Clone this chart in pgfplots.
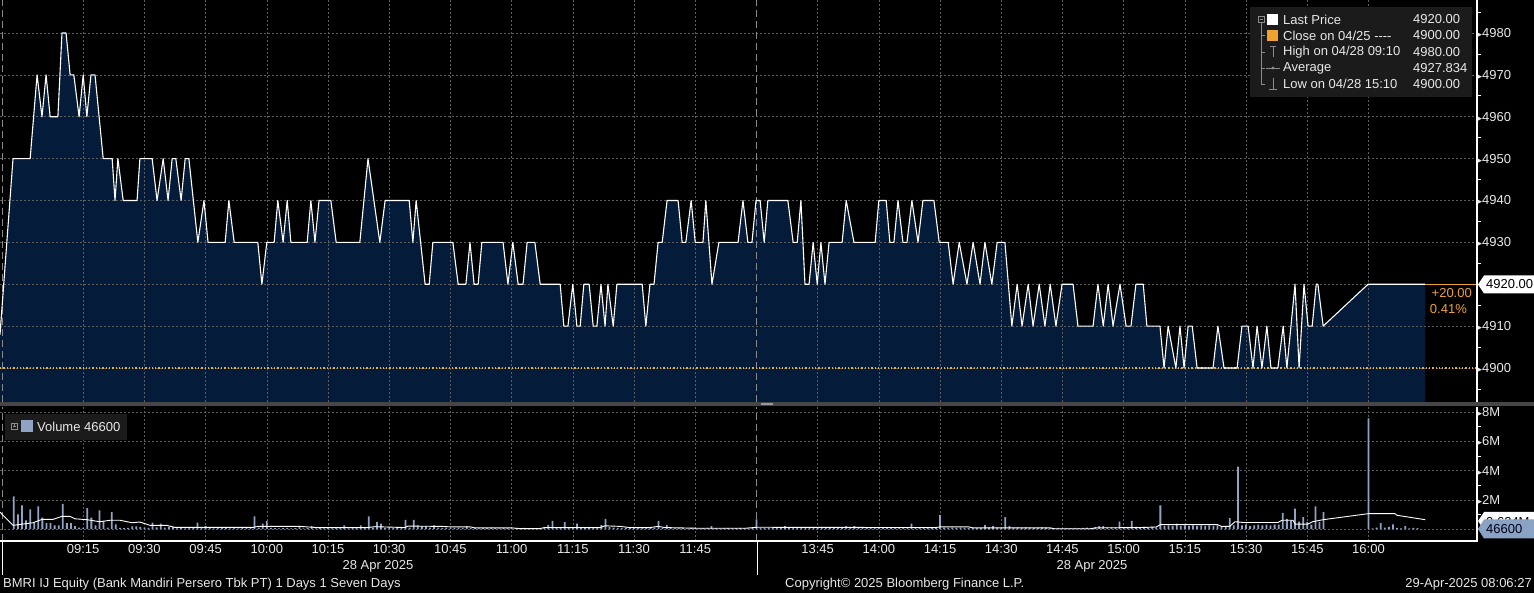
\documentclass[border=0pt]{standalone}
\usepackage{pgfplots}
\pgfplotsset{compat=1.18}
\usepackage{pgfplotstable}
\usepackage{fontspec}
\setmainfont{Liberation Sans}
\newfontfamily\dejavu{DejaVu Sans}
\definecolor{navyfill}{HTML}{041C3A}
\definecolor{gridgray}{HTML}{5E5E5E}
\definecolor{sessgray}{HTML}{8A8A8A}
\definecolor{closeorange}{HTML}{F0A22E}
\definecolor{dotorange}{HTML}{E8B23A}
\definecolor{volblue}{HTML}{8FA4C4}
\definecolor{tagblue}{HTML}{8AA2C4}
\definecolor{legbg}{HTML}{1B1B1B}
\definecolor{txt}{HTML}{E8E8E8}
\definecolor{icon}{HTML}{8C8C8C}
\newcommand\lbl{\fontsize{13}{15}\selectfont}
\newcommand\tri{{\dejavu\fontsize{9}{9}\selectfont\symbol{"25B8}}}

\pgfplotsset{
  pricegeom/.style={at={(0pt,191pt)}, anchor=south west, scale only axis,
    width=1477pt, height=402pt,
    xmin=-5.39, xmax=356.6, ymin=4891.88, ymax=4987.88},
}

% first and last rows (4880) close the filled area below the panel
\pgfplotstableread{
m p
-5.39 4880
-5.39 4908
-2.2 4950
2.0 4950
3.7 4970
4.9 4960
5.9 4970
6.9 4960
8.8 4960
9.8 4980
10.8 4980
11.8 4970
12.7 4970
14.0 4960
15.0 4970
15.9 4960
16.9 4970
17.9 4970
19.9 4950
22.1 4950
22.8 4940
23.5 4950
24.8 4940
28.2 4940
28.9 4950
31.9 4950
33.1 4940
34.6 4950
35.8 4940
36.8 4950
37.7 4950
39.0 4940
40.0 4950
40.9 4950
43.1 4930
44.6 4940
45.6 4930
49.8 4930
50.7 4940
52.0 4930
57.8 4930
58.8 4920
60.0 4930
61.8 4930
62.7 4940
64.0 4930
65.0 4940
65.9 4930
69.9 4930
70.8 4940
71.8 4930
72.8 4940
75.7 4940
77.0 4930
82.8 4930
84.8 4950
87.7 4930
89.0 4940
94.9 4940
95.8 4930
96.6 4940
98.8 4920
99.8 4920
100.7 4930
105.6 4930
106.9 4920
108.8 4920
109.8 4930
110.8 4920
111.8 4920
112.7 4930
117.9 4930
119.1 4920
120.3 4930
121.6 4920
122.8 4920
123.8 4930
125.7 4930
127.0 4920
131.9 4920
132.8 4910
133.8 4910
135.0 4920
136.0 4910
136.8 4910
137.7 4920
139.0 4920
140.0 4910
140.9 4910
141.9 4920
142.9 4910
143.6 4920
144.9 4910
145.8 4920
152.0 4920
152.9 4910
153.9 4920
154.9 4920
155.9 4930
156.9 4930
158.1 4940
160.8 4940
161.8 4930
162.7 4930
164.0 4940
165.0 4930
166.9 4930
167.6 4940
169.1 4920
170.8 4930
175.5 4930
176.7 4940
177.9 4930
178.9 4930
179.9 4940
180.9 4940
181.9 4930
182.8 4940
187.7 4940
189.0 4930
190.0 4930
190.9 4940
191.9 4920
192.9 4920
193.9 4930
194.9 4920
195.8 4930
196.8 4920
197.8 4930
201.0 4930
202.0 4940
203.9 4930
209.1 4930
210.0 4940
211.8 4940
212.7 4930
213.7 4930
214.7 4940
215.9 4930
216.9 4930
218.1 4940
219.6 4930
220.8 4940
223.5 4940
224.8 4930
227.0 4930
228.2 4920
229.7 4930
231.6 4920
233.1 4930
234.8 4920
236.0 4930
237.7 4920
239.0 4930
240.9 4930
242.6 4910
243.9 4920
245.1 4910
246.6 4920
247.8 4910
249.3 4920
250.7 4910
252.0 4920
253.4 4910
254.9 4920
257.6 4920
258.8 4910
262.5 4910
263.7 4920
265.0 4910
266.2 4920
267.4 4910
269.1 4920
270.6 4910
271.8 4910
273.0 4920
274.8 4920
275.7 4910
278.9 4910
279.9 4900
280.9 4910
282.8 4900
283.8 4910
284.8 4900
285.8 4910
286.8 4910
288.0 4900
291.9 4900
293.1 4910
294.6 4900
297.8 4900
299.0 4910
300.5 4910
301.7 4900
302.7 4910
303.9 4900
305.1 4910
306.1 4900
307.8 4900
309.1 4910
310.0 4900
312.0 4920
313.0 4900
314.2 4920
315.2 4910
316.2 4910
317.2 4920
317.6 4920
318.9 4910
329.9 4920
343.9 4920
343.9 4880
}\price

\begin{document}
\begin{tikzpicture}
\path[use as bounding box] (0pt,0pt) rectangle (1534pt,593pt);
\fill[black] (0pt,0pt) rectangle (1534pt,593pt);

% ---------------- price panel: area ----------------
\begin{axis}[pricegeom, hide axis]
\addplot[fill=navyfill, draw=none] table[x=m, y=p] {\price};
\end{axis}

% ---------------- price panel: grid and lines ----------------
\begin{axis}[
  pricegeom,
  axis line style={draw=none},
  xtick={15,30,45,60,75,90,105,120,135,150,165,195,210,225,240,255,270,285,300,315,330},
  xticklabels={}, x tick style={draw=none},
  extra x ticks={-4.9,180}, extra x tick labels={},
  extra x tick style={major grid style={color=sessgray, dash pattern=on 7pt off 4pt, line width=0.7pt}, major tick length=0pt},
  ytick={4900,4910,4920,4930,4940,4950,4960,4970,4980},
  yticklabels={\tri4900,\tri4910,{},\tri4930,\tri4940,\tri4950,\tri4960,\tri4970,\tri4980},
  minor ytick={4895,4905,4915,4925,4935,4945,4955,4965,4975,4985},
  ytick pos=right, yticklabel pos=right,
  xmajorgrids, ymajorgrids,
  major grid style={color=gridgray, dash pattern=on 2pt off 2pt, line width=0.6pt},
  tick align=outside, major tick length=0pt, minor tick length=4pt,
  minor y tick style={white, line width=0.8pt},
  yticklabel style={text=txt, font=\lbl, anchor=west, inner xsep=0.5pt},
]
\addplot[dotorange, line width=1.1pt, dash pattern=on 1.3pt off 2pt] coordinates {(-5.39,4900) (356.6,4900)};
\addplot[closeorange, line width=1pt] coordinates {(343.9,4920) (356.6,4920)};
\addplot[white, line width=1.1pt, line join=round, restrict y to domain=4885:4995] table[x=m, y=p] {\price};
\end{axis}

% ---------------- volume panel ----------------
\begin{axis}[
  at={(0pt,52pt)}, anchor=south west, scale only axis,
  width=1477pt, height=134pt,
  xmin=-5.39, xmax=356.6, ymin=-0.82, ymax=8.36,
  axis line style={draw=none},
  xtick={15,30,45,60,75,90,105,120,135,150,165,195,210,225,240,255,270,285,300,315,330},
  xticklabels={09:15,09:30,09:45,10:00,10:15,10:30,10:45,11:00,11:15,11:30,11:45,13:45,14:00,14:15,14:30,14:45,15:00,15:15,15:30,15:45,16:00},
  x tick style={draw=none},
  xticklabel style={text=txt, font=\lbl},
  extra x ticks={-4.9,180}, extra x tick labels={},
  extra x tick style={major grid style={color=sessgray, dash pattern=on 7pt off 4pt, line width=0.7pt}, major tick length=0pt},
  ytick={2,4,6,8}, yticklabels={\tri2M,\tri4M,\tri6M,\tri8M},
  minor ytick={1,3,5,7},
  extra y ticks={0}, extra y tick labels={},
  ytick pos=right, yticklabel pos=right,
  xmajorgrids, ymajorgrids,
  major grid style={color=gridgray, dash pattern=on 2pt off 2pt, line width=0.6pt},
  tick align=outside, major tick length=0pt, minor tick length=4pt,
  minor y tick style={white, line width=0.8pt},
  yticklabel style={text=txt, font=\lbl, anchor=west, inner xsep=0.5pt},
]
\addplot[ybar, bar width=1.8pt, bar shift=0pt, fill=volblue, draw=none] coordinates {
(-2,2.24)(-1,1.0)(0,1.62)(1,0.6)(2,1.35)(3,0.43)(4,1.55)(5,0.78)(6,0.41)(7,0.41)(8,0.25)(9,0.25)(10,1.73)(11,0.41)(12,0.41)(13,0.2)(14,0.1)(15,0.08)(16,1.44)(17,0.78)(18,0.25)(19,1.28)(20,0.55)(21,0.1)(22,1.16)(23,0.32)(24,0.08)(25,0.06)(26,0.08)(27,0.18)(28,0.18)(29,0.15)(30,0.1)(31,0.08)(32,0.43)(33,0.12)(34,0.37)(35,0.1)(36,0.15)(37,0.15)(38,0.05)(39,0.06)(40,0.05)(41,0.06)(42,0.08)(43,0.43)(44,0.06)(45,0.2)(46,0.08)(47,0.05)(48,0.06)(49,0.08)(50,0.12)(51,0.05)(52,0.06)(53,0.05)(54,0.06)(55,0.08)(56,0.1)(57,0.87)(58,0.1)(59,0.37)(60,0.55)(61,0.08)(62,0.06)(63,0.05)(64,0.06)(65,0.08)(66,0.05)(67,0.06)(68,0.2)(69,0.05)(70,0.06)(71,0.2)(72,0.05)(73,0.06)(74,0.05)(75,0.06)(76,0.05)(77,0.08)(78,0.06)(79,0.25)(80,0.05)(81,0.06)(82,0.08)(83,0.25)(84,0.06)(85,0.87)(86,0.1)(87,0.48)(88,0.37)(89,0.08)(90,0.1)(91,0.06)(92,0.08)(93,0.1)(94,0.62)(95,0.1)(96,0.62)(97,0.25)(98,0.2)(99,0.2)(100,0.1)(101,0.25)(102,0.1)(103,0.08)(104,0.1)(105,0.06)(106,0.08)(107,0.1)(108,0.06)(109,0.2)(110,0.06)(111,0.08)(112,0.05)(113,0.06)(114,0.08)(115,0.1)(116,0.06)(117,0.05)(118,0.08)(119,0.06)(120,0.05)(121,0.06)(122,0.05)(123,0.08)(124,0.06)(125,0.05)(126,0.06)(127,0.08)(128,0.06)(129,0.27)(130,0.55)(131,0.08)(132,0.1)(133,0.48)(134,0.08)(135,0.06)(136,0.37)(137,0.1)(138,0.08)(139,0.15)(140,0.1)(141,0.15)(142,0.27)(143,0.7)(144,0.15)(145,0.1)(146,0.08)(147,0.06)(148,0.1)(149,0.06)(150,0.15)(151,0.08)(152,0.1)(153,0.06)(154,0.08)(155,0.1)(156,0.55)(157,0.08)(158,0.27)(159,0.06)(160,0.08)(161,0.05)(162,0.06)(163,0.05)(164,0.08)(165,0.06)(166,0.05)(167,0.06)(168,0.08)(169,0.2)(170,0.06)(171,0.05)(172,0.06)(173,0.08)(174,0.05)(175,0.06)(176,0.08)(177,0.06)(178,0.05)(179,0.08)(180,0.66)(181,0.08)(182,0.06)(183,0.08)(184,0.12)(185,0.1)(186,0.1)(187,0.2)(188,0.08)(189,0.06)(190,0.08)(191,0.1)(192,0.08)(193,0.06)(194,0.08)(195,0.1)(196,0.15)(197,0.08)(198,0.06)(199,0.08)(200,0.1)(201,0.08)(202,0.2)(203,0.08)(204,0.2)(205,0.08)(206,0.06)(207,0.08)(208,0.1)(209,0.08)(210,0.15)(211,0.08)(212,0.06)(213,0.08)(214,0.1)(215,0.08)(216,0.06)(217,0.08)(218,0.37)(219,0.12)(220,0.08)(221,0.06)(222,0.08)(223,0.1)(224,0.08)(225,0.96)(226,0.1)(227,0.08)(228,0.1)(229,0.08)(230,0.1)(231,0.08)(232,0.06)(233,0.08)(234,0.06)(235,0.08)(236,0.27)(237,0.12)(238,0.2)(239,0.1)(240,0.08)(241,0.82)(242,0.2)(243,0.1)(244,0.12)(245,0.1)(246,0.12)(247,0.1)(248,0.08)(249,0.1)(250,0.12)(251,0.1)(252,0.08)(253,0.06)(254,0.08)(255,0.06)(256,0.08)(257,0.06)(258,0.08)(259,0.06)(260,0.08)(261,0.1)(262,0.08)(263,0.12)(264,0.2)(265,0.2)(266,0.12)(267,0.12)(268,0.12)(269,0.5)(270,0.12)(271,0.15)(272,0.55)(273,0.15)(274,0.12)(275,0.15)(276,0.12)(277,0.15)(278,0.12)(279,1.62)(280,0.22)(281,0.25)(282,0.22)(283,0.37)(284,0.22)(285,0.25)(286,0.22)(287,0.25)(288,0.22)(289,0.25)(290,0.22)(291,0.25)(292,0.22)(293,0.25)(294,0.2)(295,0.2)(296,0.75)(297,0.25)(298,4.27)(299,0.25)(300,0.3)(301,0.2)(302,0.25)(303,0.3)(304,0.25)(305,0.3)(306,0.25)(307,0.3)(308,0.3)(309,1.1)(310,0.7)(311,0.6)(312,1.4)(313,0.5)(314,0.82)(315,0.48)(316,0.3)(317,1.55)(318,0.48)(319,1.16)(330,7.58)(331,0.05)(332,0.1)(333,0.41)(334,0.1)(335,0.14)(336,0.32)(337,0.08)(338,0.05)(339,0.2)(340,0.05)(341,0.08)(342,0.06)};
\addplot[white, line width=0.9pt] coordinates {
(-5.39,1.16)(-2.2,0.25)(2.7,0.43)(4.9,0.66)(7.6,0.66)(9.8,0.87)(11.8,0.87)(13,0.7)(15.9,0.64)(19.1,0.5)(21.6,0.6)(24,0.6)(27,0.43)(28.9,0.48)(31.4,0.25)(35.5,0.25)(37.5,0.11)(56.6,0.11)(57.8,0.18)(68.1,0.18)(72.3,0.1)(84.6,0.1)(86.5,0.16)(93.9,0.1)(94.6,0.2)(102.9,0.18)(104.9,0.15)(109.8,0.15)(111,0.08)(120,0.08)(122,0.03)(127,0.03)(128,0.1)(141.7,0.1)(142.9,0.22)(146.6,0.18)(149,0.1)(153.9,0.1)(155.9,0.18)(157.6,0.1)(166.2,0.05)(177.2,0.05)(180.1,0.12)(224,0.1)(225,0.15)(232,0.15)(233,0.08)(252,0.08)(253,0.02)(262,0.02)(263,0.08)(274,0.1)(278,0.14)(279,0.3)(293,0.3)(294,0.18)(296,0.18)(297.3,0.5)(299.3,0.45)(307.8,0.45)(308.8,0.6)(311.5,0.6)(312,0.34)(315.2,0.34)(316.3,0.5)(318.9,0.64)(329.9,1.05)(336.5,1.05)(337,0.94)(343.9,0.64)};
\end{axis}

\begin{scope}[x=1pt, y=1pt]
% ---------------- frame lines ----------------
\fill[gray!55!black] (0,187) rectangle (1534,191);
\draw[gray!80, line width=0.6pt] (761,189.8) -- (773,189.8) (761,188.2) -- (773,188.2);
\draw[white, line width=1.2pt] (1477,191) -- (1477,593);
\draw[white, line width=1.2pt] (1477,52) -- (1477,186);
\draw[white, line width=1.2pt] (0,52) -- (1477.6,52);
\draw[white, line width=1pt] (2,52) -- (2,18) (757,52) -- (757,18);

% ---------------- last price tag ----------------
\fill[white] (1478,308.5) -- (1484,317.5) -- (1534,317.5) -- (1534,299.5) -- (1484,299.5) -- cycle;
\node[anchor=west, text=black, font=\lbl, inner sep=0pt] at (1486,308.5) {4920.00};
\node[anchor=east, text=closeorange, font=\lbl, inner sep=0pt] at (1472,299.5) {+20.00};
\node[anchor=east, text=closeorange, font=\lbl, inner sep=0pt] at (1467,283.5) {0.41\%};

% ---------------- volume tags ----------------
\fill[white] (1478,72) -- (1484,81) -- (1534,81) -- (1534,63) -- (1484,63) -- cycle;
\begin{scope}
\clip (1478,73.5) rectangle (1534,82);
\node[anchor=west, text=black, font=\lbl, inner sep=0pt] at (1486,71) {0.624M};
\end{scope}
\fill[tagblue] (1478,64) -- (1484,73.5) -- (1534,73.5) -- (1534,54.5) -- (1484,54.5) -- cycle;
\node[anchor=west, text=black!75!blue!40!black, font=\lbl, inner sep=0pt] at (1486,64) {46600};

% ---------------- price legend ----------------
\fill[legbg] (1250,496) rectangle (1472,586);
\draw[icon, line width=0.6pt] (1258,571) rectangle (1264,577);
\draw[icon, line width=0.6pt] (1259.5,574) -- (1262.5,574);
\draw[icon, line width=0.6pt] (1261,571) -- (1261,509) (1261,557.5) -- (1265,557.5) (1261,541) -- (1265,541) (1261,525) -- (1265,525) (1261,509) -- (1265,509);
\fill[white] (1267,568) rectangle (1278,579);
\fill[closeorange] (1267,552) rectangle (1278,563);
\draw[icon, line width=0.8pt] (1273,535.5) -- (1273,546.5) (1270,546.5) -- (1276,546.5);
\draw[icon, line width=0.8pt] (1266,525) -- (1280,525);
\fill[icon] (1273,525) circle (1.6);
\draw[icon, line width=0.8pt] (1273,504) -- (1273,515) (1269,504) -- (1277,504);
\begin{scope}[every node/.style={anchor=west, text=txt, font=\lbl, inner sep=0pt}]
\node at (1283,573.5) {Last Price};
\node at (1283,557.5) {Close on 04/25 -{}-{}-{}-};
\node at (1283,541) {High on 04/28 09:10};
\node at (1283,525) {Average};
\node at (1283,509) {Low on 04/28 15:10};
\node at (1413,573.5) {4920.00};
\node at (1413,557.5) {4900.00};
\node at (1413,541) {4980.00};
\node at (1413,525) {4927.834};
\node at (1413,509) {4900.00};
\end{scope}

% ---------------- volume legend ----------------
\fill[legbg] (5,153) rectangle (127,179);
\draw[icon, line width=0.6pt] (11,164) rectangle (17,170);
\draw[icon, line width=0.6pt] (12.5,167) -- (15.5,167) (14,165.5) -- (14,168.5);
\fill[volblue] (21,161) rectangle (33,173);
\node[anchor=west, text=txt, font=\lbl, inner sep=0pt] at (37,166) {Volume 46600};

% ---------------- footer ----------------
\node[text=txt, font=\lbl, inner sep=0pt] at (378,27) {28 Apr 2025};
\node[text=txt, font=\lbl, inner sep=0pt] at (1092,27) {28 Apr 2025};
\node[anchor=west, text=txt, font=\lbl, inner sep=0pt] at (3,9) {BMRI IJ Equity (Bank Mandiri Persero Tbk PT) 1 Days 1 Seven Days};
\node[anchor=west, text=txt, font=\lbl, inner sep=0pt] at (785,9) {Copyright© 2025 Bloomberg Finance L.P.};
\node[anchor=east, text=txt, font=\lbl, inner sep=0pt] at (1532,9) {29-Apr-2025 08:06:27};
\end{scope}
\end{tikzpicture}
\end{document}
